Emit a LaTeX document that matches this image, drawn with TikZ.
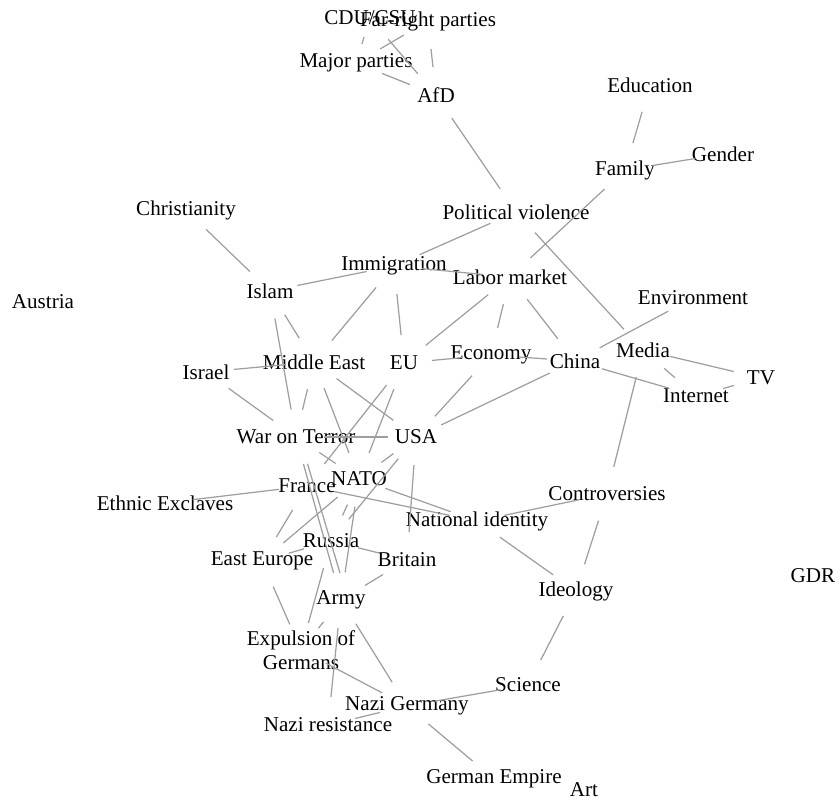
\documentclass[tikz,border=0pt]{standalone}
\usepackage{fontspec}
\setmainfont{Liberation Serif}
\usepackage{tikz}
\usetikzlibrary{positioning}

\begin{document}
\begin{tikzpicture}[x=0.02cm, y=-0.02cm,
    lbl/.style={font=\fontsize{12}{13.5}\selectfont, inner sep=0pt, align=center},
    edge/.style={draw=black!38, line width=0.7pt, shorten <=0.56cm, shorten >=0.56cm}]
    \useasboundingbox (0,0) rectangle (840,803);

    % parties
    \node[lbl] (cdu) at (370,18) {CDU/CSU};
    \node[lbl] (farright) at (428,21) {Far-right parties};
    \node[lbl] (major) at (356,63) {Major parties};
    \node[lbl] (afd) at (436,95) {AfD};

    % society
    \node[lbl] (educ) at (650,85) {Education};
    \node[lbl] (gender) at (723,154) {Gender};
    \node[lbl] (family) at (625,170) {Family};
    \node[lbl] (christ) at (186,210) {Christianity};
    \node[lbl] (polviol) at (516,212) {Political violence};
    \node[lbl] (immig) at (394,266) {Immigration};
    \node[lbl] (labor) at (510,277) {Labor market};
    \node[lbl] (islam) at (270,291) {Islam};
    \node[lbl] (austria) at (43,302) {Austria};
    \node[lbl] (environ) at (693,298) {Environment};
    \node[lbl] (mideast) at (314,362) {Middle East};
    \node[lbl] (eu) at (404,363) {EU};
    \node[lbl] (economy) at (491,355) {Economy};
    \node[lbl] (china) at (575,361) {China};
    \node[lbl] (media) at (643,350) {Media};
    \node[lbl] (tv) at (761,378) {TV};
    \node[lbl] (israel) at (206,372) {Israel};
    \node[lbl] (internet) at (696,396) {Internet};

    % politics and war
    \node[lbl] (wot) at (296,437) {War on Terror};
    \node[lbl] (usa) at (416,437) {USA};
    \node[lbl] (nato) at (359,479) {NATO};
    \node[lbl] (france) at (307,486) {France};
    \node[lbl] (exclaves) at (165,503) {Ethnic Exclaves};
    \node[lbl] (controv) at (607,494) {Controversies};
    \node[lbl] (natid) at (477,521) {National identity};
    \node[lbl] (russia) at (331,541) {Russia};
    \node[lbl] (easteu) at (262,561) {East Europe};
    \node[lbl] (britain) at (407,560) {Britain};
    \node[lbl] (gdr) at (813,576) {GDR};
    \node[lbl] (ideology) at (576,591) {Ideology};
    \node[lbl] (army) at (341,600) {Army};
    \node[lbl] (expulsion) at (301,650) {Expulsion of\\Germans};
    \node[lbl] (science) at (528,685) {Science};
    \node[lbl] (nazigerm) at (407,706) {Nazi Germany};
    \node[lbl] (nazires) at (328,725) {Nazi resistance};
    \node[lbl] (gerempire) at (494,779) {German Empire};
    \node[lbl] (art) at (584,790) {Art};

    % links
    \draw[edge, shorten <=0.4cm, shorten >=0.4cm] (cdu.center) -- (major.center);
    \foreach \a/\b in {major/farright, cdu/afd, farright/afd, major/afd,
        afd/polviol, educ/family, family/gender, family/labor,
        polviol/immig, polviol/media, immig/labor, labor/eu, labor/economy,
        labor/china, environ/china, media/tv, media/internet, internet/tv,
        china/internet, economy/eu, economy/china, media/controv,
        economy/usa, china/usa, christ/islam, islam/immig, immig/mideast,
        immig/eu, islam/mideast, islam/wot, israel/mideast, israel/wot,
        mideast/wot, mideast/usa, mideast/nato, eu/france, eu/nato,
        wot/usa, usa/nato, usa/russia, usa/britain, wot/nato,
        france/natid, nato/natid, nato/easteu, wot/army, france/easteu,
        nato/russia, nato/army, exclaves/france, russia/easteu,
        russia/britain, britain/army, easteu/expulsion, russia/expulsion,
        expulsion/army, army/nazires, army/nazigerm, expulsion/nazigerm,
        nazires/nazigerm, nazigerm/science, nazigerm/gerempire,
        ideology/science, controv/natid, controv/ideology, natid/ideology}
        \draw[edge] (\a.center) -- (\b.center);
    \draw[edge] ([xshift=2pt]wot.center) -- ([xshift=4pt]army.center);
\end{tikzpicture}
\end{document}
